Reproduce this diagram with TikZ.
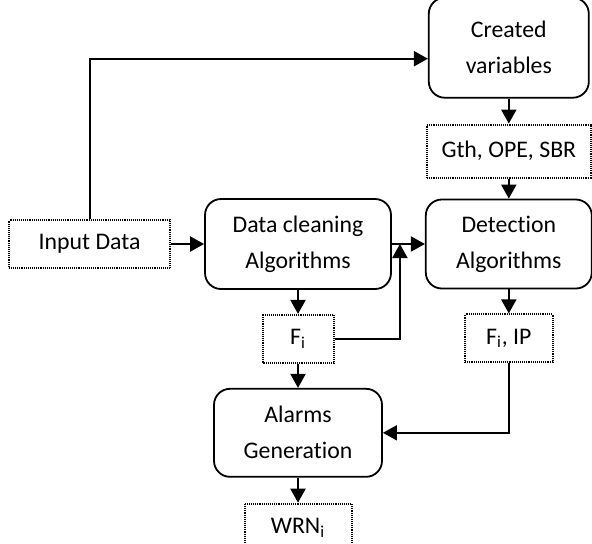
\documentclass[tikz,border=0pt]{standalone}
\usepackage{fontspec}
\setmainfont[Ligatures=NoCommon]{Carlito}
\usepackage{tikz}
\usetikzlibrary{positioning,arrows.meta}

\begin{document}
\begin{tikzpicture}[->,>={Triangle[length=7pt,width=7.5pt]},x=0.5pt,y=-0.5pt,
   node distance=12pt,line width=1pt,
   font=\fontsize{11.9}{18}\selectfont,
   algo box/.style={draw,rounded corners=8pt,line width=0.9pt,align=center,inner sep=0pt},
   data box/.style={draw,dash pattern=on 0.5pt off 0.45pt,line width=1pt,align=center,inner sep=0pt,minimum height=24pt}]

  \useasboundingbox (0,0) rectangle (592,543);

  \node[algo box,minimum width=93pt,minimum height=45pt] (dcl) at (298,244) {Data cleaning\\Algorithms};
  \node[algo box,minimum width=83pt,minimum height=44.5pt] (det) [right=16.5pt of dcl] {Detection\\Algorithms};
  \node[data box,minimum width=80.5pt] (inp) [left=16.5pt of dcl] {Input Data};
  \node[data box,minimum width=82pt,minimum height=26.5pt] (gth) [above=10pt of det] {Gth, OPE, SBR};
  \node[algo box,minimum width=80pt,minimum height=50pt] (cre) [above=12.5pt of gth] {Created\\variables};
  \node[data box,minimum width=35.5pt] (fi) [below=of dcl] {F\textsubscript{i}};
  \node[data box,minimum width=44pt] (fip) [below=of det] {F\textsubscript{i}, IP};
  \node[algo box,minimum width=84pt,minimum height=44pt] (alm) [below=of fi] {Alarms\\Generation};
  \node[data box,minimum width=53.5pt] (wrn) [below=12.5pt of alm] {WRN\textsubscript{i}};

  \coordinate (jn) at ([xshift=4pt]dcl.east);

  \draw (inp.north) |- ([yshift=-5.5pt]cre.west);
  \draw (inp) -- (dcl);
  \draw (dcl) -- (det);
  \draw (cre) -- (gth);
  \draw (gth) -- (det);
  \draw (dcl.south -| fi) -- (fi);
  \draw (fi) -- (alm);
  \draw (fi.east) -| (jn);
  \draw (det.south -| fip) -- (fip);
  \draw (fip.south) |- (alm.east);
  \draw (alm) -- (wrn);
\end{tikzpicture}
\end{document}
